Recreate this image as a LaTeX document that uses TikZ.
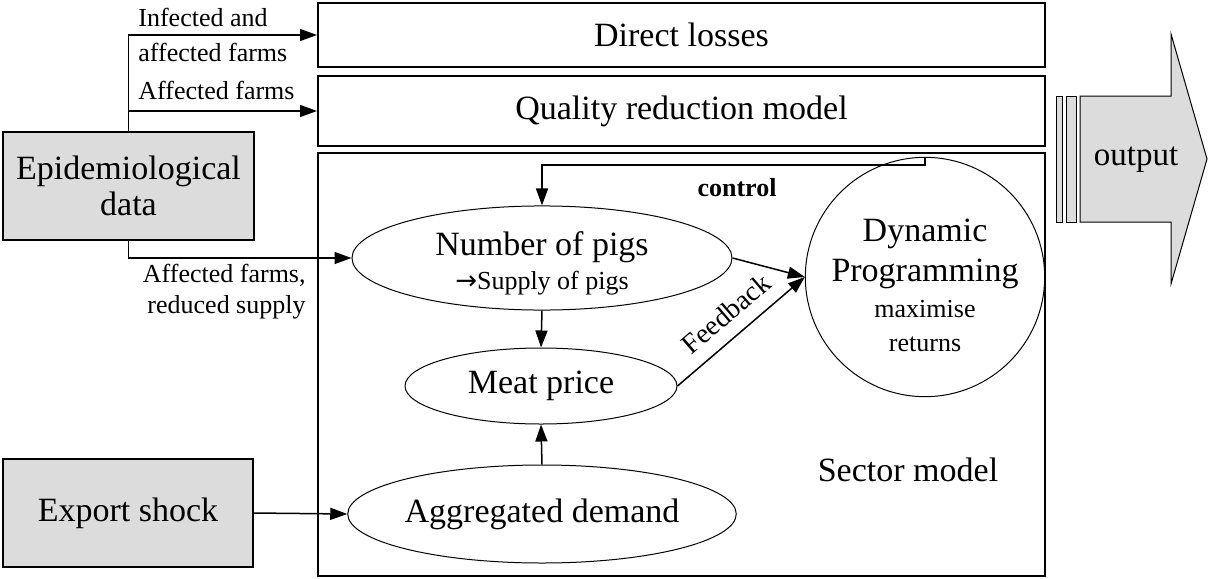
\documentclass[tikz,border=0pt]{standalone}
\usepackage{fontspec}
\setmainfont{Liberation Serif}
\newfontfamily\symfont{DejaVu Sans}
\usetikzlibrary{arrows.meta,shapes.geometric}
\definecolor{panelgray}{RGB}{220,220,220}
\newcommand{\bigtxt}{\fontsize{17}{20}\selectfont}
\newcommand{\smalltxt}{\fontsize{13}{15.5}\selectfont}

\begin{document}
\begin{tikzpicture}[x=0.5pt,y=-0.5pt,
  model/.style={draw, line width=1pt, inner sep=0pt, font=\bigtxt},
  input/.style={draw, fill=panelgray, line width=0.6pt, inner sep=0pt, font=\bigtxt, align=center},
  oval/.style={draw, ellipse, line width=0.5pt, inner sep=0pt, font=\bigtxt, align=center},
  flow/.style={-{Triangle[length=8.5pt,width=6pt]}, line width=0.75pt},
  note/.style={font=\smalltxt, inner sep=0pt}
]
\useasboundingbox (0,0) rectangle (1208,578);

% model boxes
\node[model, minimum width=363.5pt, minimum height=32pt] (direct) at (681.5,35) {Direct losses};
\node[model, minimum width=363.5pt, minimum height=35pt] (quality) at (681.5,111) {Quality reduction model};
\node[model, minimum width=363.5pt, minimum height=211.5pt] (sector) at (681.5,364.5) {};
\node[font=\bigtxt] (sectorlbl) at (908,470) {Sector model};

% inputs
\node[input, minimum width=125.5pt, minimum height=54pt] (epi) at (128.5,186) {Epidemiological\\[-2pt]data};
\node[input, minimum width=125pt, minimum height=54pt] (export) at (128,513) {Export shock};

% sector model internals
\node[oval, minimum width=190pt, minimum height=47pt] (number) at (542,258)
  {\rule{0pt}{17pt}Number of pigs\\[-3pt]{\smalltxt{\symfont\fontsize{13}{15}\selectfont →}Supply of pigs}};
\node[oval, minimum width=136pt, minimum height=38pt] (meat) at (541,386) {Meat price};
\node[oval, minimum width=190pt, minimum height=49pt] (agg) at (542,514) {Aggregated demand};
\node[draw, circle, line width=0.5pt, inner sep=0pt, minimum size=105pt, font=\bigtxt, align=center] (dp) at (925,277)
  {\rule{0pt}{20pt}Dynamic\\Programming\\[-2pt]{\smalltxt maximise}\\[-3pt]{\smalltxt returns}};

% connectors from the epidemiological data
\draw[flow] (epi.north) |- (direct.west);
\draw[flow] (epi.north |- quality.west) -- (quality.west);
\draw[flow] (epi.south) |- (number.west);
\node[note, anchor=west, align=left, font=\fontsize{13}{17.5}\selectfont] (lblinf) at (138,35) {Infected and\\affected farms};
\node[note, anchor=west] (lblaff) at (138,90) {Affected farms};
\node[note, anchor=east, align=right] (lblsup) at (306,292) {Affected farms,\\reduced supply};

% export shock
\draw[flow] (export.east) -- (agg.west);

% price formation
\draw[flow] (number.south) -- (meat.north);
\draw[flow] (agg.north) -- (meat.south);

% dynamic programming loop
\coordinate (ctl) at (925,165);
\draw[flow] (dp.north) -- (ctl) -| (number.north);
\node[note, font=\smalltxt\bfseries] (ctllbl) at (737,188) {control};
\draw[flow] (number.east) -- (dp.west);
\draw[flow] (meat.east) -- node[sloped, above, pos=0.5, font=\fontsize{14}{16}\selectfont, inner sep=6.5pt] (fb) {Feedback} (dp.west);

% output arrow
\draw[fill=panelgray, line width=0.5pt] (1056,96) rectangle (1062,222);
\draw[fill=panelgray, line width=0.5pt] (1066,96) rectangle (1076,222);
\draw[fill=panelgray, line width=0.5pt] (1080,96) -- (1171,96) -- (1171,34) -- (1207,159)
  -- (1171,284) -- (1171,222) -- (1080,222) -- cycle;
\node[font=\fontsize{16.5}{19}\selectfont] (out) at (1136,160) {output};
\end{tikzpicture}
\end{document}
